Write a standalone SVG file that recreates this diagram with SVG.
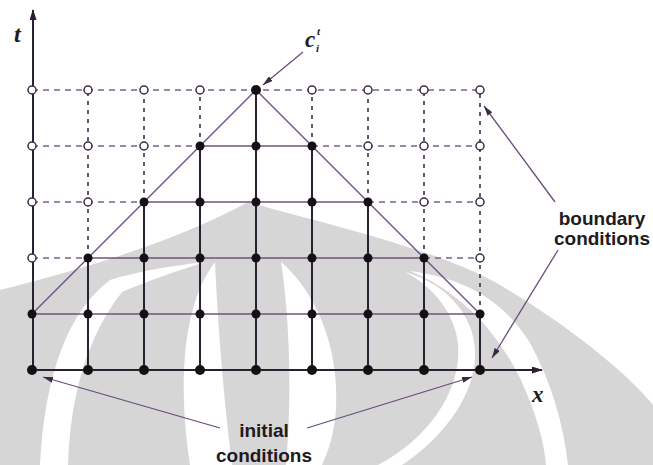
<svg xmlns="http://www.w3.org/2000/svg" width="653" height="465" viewBox="0 0 653 465">
<defs>
<style>
.vs{stroke:#2b2030;stroke-width:2;fill:none}
.hs{stroke:#6a5478;stroke-width:1.6;fill:none}
.vd{stroke:#3e2e4a;stroke-width:1.6;stroke-dasharray:4 5;fill:none}
.hd{stroke:#7a6290;stroke-width:1.4;stroke-dasharray:6 5;fill:none}
.sl{stroke:#6e5280;stroke-width:1.4;fill:none}
.ld{stroke:#6a4c7a;stroke-width:1.3;fill:none}
.ax{stroke:#2b2030;stroke-width:2;fill:none}
.fn{fill:#141014}
.on{fill:#fff;stroke:#3a2a44;stroke-width:1.5}
.it{font-family:"Liberation Serif",serif;font-weight:bold;font-style:italic;fill:#1e1a20}
.lb{font-family:"Liberation Sans",Arial,sans-serif;font-weight:bold;font-size:19px;fill:#1e1a20;text-anchor:middle}
.wm{fill:#d6d6d6}
.wc{fill:#fff}
</style>
<marker id="ah" markerUnits="userSpaceOnUse" markerWidth="11" markerHeight="7" refX="10" refY="3.5" orient="auto">
<path d="M0,0 L11,3.5 L0,7 z" fill="#2b2030"/>
</marker>
<marker id="al" markerUnits="userSpaceOnUse" markerWidth="10" markerHeight="6" refX="10" refY="3" orient="auto">
<path d="M0,0 L10,3 L0,6 z" fill="#3a2a44"/>
</marker>
</defs>
<rect width="653" height="465" fill="#fff"/>
<g id="watermark">
<path class="wm" d="M0,465 L0,290 C80,270 180,240 248,202 C330,225 440,250 500,285 C560,320 625,370 653,405 L653,465 Z"/>
<path class="wc" d="M215,262 C186,300 176,370 190,465 L232,465 C224,400 218,330 215,262 Z"/>
<path class="wc" d="M281,262 C314,290 340,345 336,410 C334,435 328,452 322,465 L286,465 C292,400 290,320 281,262 Z"/>
<path class="wc" d="M110,280 C70,310 45,370 40,465 L68,465 C70,395 88,335 122,292 C150,280 180,270 205,262 C170,266 135,272 110,280 Z"/>
<path class="wc" d="M405,272 C440,290 462,325 458,360 C454,400 425,440 378,465 L402,465 C440,440 472,400 475,360 C478,320 450,285 405,272 Z"/>
<path class="wc" d="M410,271 C465,293 500,338 520,378 C535,410 544,440 546,465 L568,465 C563,420 550,380 530,343 C502,298 462,278 410,271 Z"/>
</g>
<g id="connectors">
<line class="ax" x1="33" y1="370" x2="33" y2="10" marker-end="url(#ah)"/>
<line class="ax" x1="32" y1="370" x2="542" y2="370" marker-end="url(#ah)"/>
<line class="hs" x1="32" y1="314" x2="480" y2="314"/>
<line class="hs" x1="88" y1="258" x2="424" y2="258"/>
<line class="hs" x1="144" y1="202" x2="368" y2="202"/>
<line class="hs" x1="200" y1="146" x2="312" y2="146"/>
<line class="hd" x1="32" y1="90" x2="480" y2="90"/>
<line class="hd" x1="32" y1="146" x2="200" y2="146"/>
<line class="hd" x1="312" y1="146" x2="480" y2="146"/>
<line class="hd" x1="32" y1="202" x2="144" y2="202"/>
<line class="hd" x1="368" y1="202" x2="480" y2="202"/>
<line class="hd" x1="32" y1="258" x2="88" y2="258"/>
<line class="hd" x1="424" y1="258" x2="480" y2="258"/>
<line class="vs" x1="88" y1="370" x2="88" y2="258"/>
<line class="vs" x1="144" y1="370" x2="144" y2="202"/>
<line class="vs" x1="200" y1="370" x2="200" y2="146"/>
<line class="vs" x1="256" y1="370" x2="256" y2="90"/>
<line class="vs" x1="312" y1="370" x2="312" y2="146"/>
<line class="vs" x1="368" y1="370" x2="368" y2="202"/>
<line class="vs" x1="424" y1="370" x2="424" y2="258"/>
<line class="vs" x1="480" y1="370" x2="480" y2="314"/>
<line class="vd" x1="88" y1="258" x2="88" y2="90"/>
<line class="vd" x1="144" y1="202" x2="144" y2="90"/>
<line class="vd" x1="200" y1="146" x2="200" y2="90"/>
<line class="vd" x1="312" y1="146" x2="312" y2="90"/>
<line class="vd" x1="368" y1="202" x2="368" y2="90"/>
<line class="vd" x1="424" y1="258" x2="424" y2="90"/>
<line class="vd" x1="480" y1="314" x2="480" y2="90"/>
<line class="sl" x1="32" y1="314" x2="256" y2="90"/>
<line class="sl" x1="256" y1="90" x2="480" y2="314"/>
<line class="ld" x1="303" y1="52" x2="263" y2="85" marker-end="url(#al)"/>
<line class="ld" x1="555" y1="202" x2="484" y2="106" marker-end="url(#al)"/>
<line class="ld" x1="558" y1="250" x2="492" y2="358" marker-end="url(#al)"/>
<line class="ld" x1="220" y1="428" x2="43" y2="377" marker-end="url(#al)"/>
<line class="ld" x1="307" y1="428" x2="472" y2="377" marker-end="url(#al)"/>
</g>
<g id="open-nodes">
<circle class="on" cx="32" cy="90" r="4"/><circle class="on" cx="88" cy="90" r="4"/><circle class="on" cx="144" cy="90" r="4"/><circle class="on" cx="200" cy="90" r="4"/><circle class="on" cx="312" cy="90" r="4"/><circle class="on" cx="368" cy="90" r="4"/><circle class="on" cx="424" cy="90" r="4"/><circle class="on" cx="480" cy="90" r="4"/>
<circle class="on" cx="32" cy="146" r="4"/><circle class="on" cx="88" cy="146" r="4"/><circle class="on" cx="144" cy="146" r="4"/><circle class="on" cx="368" cy="146" r="4"/><circle class="on" cx="424" cy="146" r="4"/><circle class="on" cx="480" cy="146" r="4"/>
<circle class="on" cx="32" cy="202" r="4"/><circle class="on" cx="88" cy="202" r="4"/><circle class="on" cx="424" cy="202" r="4"/><circle class="on" cx="480" cy="202" r="4"/>
<circle class="on" cx="32" cy="258" r="4"/><circle class="on" cx="480" cy="258" r="4"/>
</g>
<g id="filled-nodes" class="fn">
<circle cx="256" cy="90" r="5"/>
<circle cx="200" cy="146" r="4.5"/><circle cx="256" cy="146" r="4.5"/><circle cx="312" cy="146" r="4.5"/>
<circle cx="144" cy="202" r="4.5"/><circle cx="200" cy="202" r="4.5"/><circle cx="256" cy="202" r="4.5"/><circle cx="312" cy="202" r="4.5"/><circle cx="368" cy="202" r="4.5"/>
<circle cx="88" cy="258" r="4.5"/><circle cx="144" cy="258" r="4.5"/><circle cx="200" cy="258" r="4.5"/><circle cx="256" cy="258" r="4.5"/><circle cx="312" cy="258" r="4.5"/><circle cx="368" cy="258" r="4.5"/><circle cx="424" cy="258" r="4.5"/>
<circle cx="32" cy="314" r="4.5"/><circle cx="88" cy="314" r="4.5"/><circle cx="144" cy="314" r="4.5"/><circle cx="200" cy="314" r="4.5"/><circle cx="256" cy="314" r="4.5"/><circle cx="312" cy="314" r="4.5"/><circle cx="368" cy="314" r="4.5"/><circle cx="424" cy="314" r="4.5"/><circle cx="480" cy="314" r="4.5"/>
<circle cx="32" cy="370" r="5"/><circle cx="88" cy="370" r="5"/><circle cx="144" cy="370" r="5"/><circle cx="200" cy="370" r="5"/><circle cx="256" cy="370" r="5"/><circle cx="312" cy="370" r="5"/><circle cx="368" cy="370" r="5"/><circle cx="424" cy="370" r="5"/><circle cx="480" cy="370" r="5"/>
</g>
<g id="labels">
<text class="it" x="14" y="42" font-size="24">t</text>
<text class="it" x="305" y="47" font-size="23">c</text>
<text class="it" x="317" y="35" font-size="11">t</text>
<text class="it" x="316" y="52" font-size="11">i</text>
<text class="it" x="532" y="402" font-size="23">x</text>
<text class="lb" x="602" y="225">boundary</text>
<text class="lb" x="602" y="245">conditions</text>
<text class="lb" x="264" y="437">initial</text>
<text class="lb" x="264" y="462">conditions</text>
</g>
</svg>
